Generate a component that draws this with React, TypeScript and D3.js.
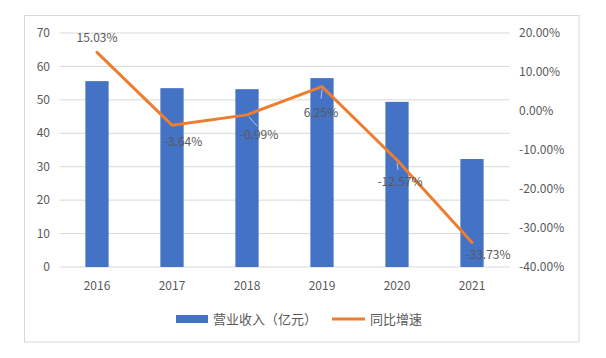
import React from "react";
import * as d3 from "d3";

const years = ["2016", "2017", "2018", "2019", "2020", "2021"];
const revenue = [55.6, 53.5, 53.2, 56.5, 49.4, 32.3];
const growth = [15.03, -3.64, -0.99, 6.25, -12.57, -33.73];
const growthLabels = ["15.03%", "-3.64%", "-0.99%", "6.25%", "-12.57%", "-33.73%"];
const leftTicks = [0, 10, 20, 30, 40, 50, 60, 70];
const rightTicks = [20, 10, 0, -10, -20, -30, -40];
const legendNames = ["营业收入（亿元）", "同比增速"];

// label offsets relative to the point (dx, dy)
const labelOffsets: [number, number][] = [
  [0, -15],
  [11, 17],
  [12, 20],
  [-1, 26],
  [3, 22],
  [16, 12],
];

export default function App() {
  const W = 606, H = 358;
  const x0 = 59.5, x1 = 509.5;
  const yTop = 33, yBot = 267;
  const x = d3.scaleBand<string>().domain(years).range([x0, x1]).paddingInner(0.69).paddingOuter(0.345);
  const xc = (d: string) => (x(d) as number) + x.bandwidth() / 2;
  const yL = d3.scaleLinear().domain([0, 70]).range([yBot, yTop]);
  const yR = d3.scaleLinear().domain([-40, 20]).range([yBot, yTop]);
  const line = d3
    .line<number>()
    .x((_, i) => xc(years[i]))
    .y((d) => yR(d));
  const font = "'Microsoft YaHei', 'Noto Sans CJK SC', 'DejaVu Sans', sans-serif";
  const txt = "#595959";
  return (
    <svg width={W} height={H} style={{ position: "absolute", left: 0, top: 0 }} fontFamily={font}>
      <rect x={0} y={0} width={W} height={H} fill="#fff" />
      <rect x={24.5} y={15.5} width={554.5} height={326.5} fill="none" stroke="#d9d9d9" strokeWidth={1} />
      {leftTicks.map((t) => (
        <line key={t} x1={x0} x2={x1} y1={yL(t)} y2={yL(t)} stroke="#d9d9d9" strokeWidth={1} />
      ))}
      {leftTicks.map((t) => (
        <text key={"l" + t} x={50} y={yL(t)} dy="0.35em" textAnchor="end" fontSize={12} fill={txt}>
          {t}
        </text>
      ))}
      {rightTicks.map((t) => (
        <text key={"r" + t} x={519} y={yR(t)} dy="0.35em" textAnchor="start" fontSize={12} fill={txt}>
          {t.toFixed(2) + "%"}
        </text>
      ))}
      {years.map((yr) => (
        <text key={"x" + yr} x={xc(yr)} y={286} dy="0.35em" textAnchor="middle" fontSize={12} fill={txt}>
          {yr}
        </text>
      ))}
      {revenue.map((v, i) => (
        <rect key={"b" + i} x={x(years[i])} y={yL(v)} width={x.bandwidth()} height={yL(0) - yL(v)} fill="#4472C4" />
      ))}
      <path d={line(growth) || ""} fill="none" stroke="#ED7D31" strokeWidth={3} strokeLinejoin="round" strokeLinecap="round" />
      {/* leader lines */}
      <line x1={xc(years[2]) + 2} y1={yR(growth[2]) + 2} x2={xc(years[2]) + 10} y2={yR(growth[2]) + 11} stroke="#b4c7e7" strokeWidth={1} />
      <line x1={xc(years[3])} y1={yR(growth[3]) + 3} x2={xc(years[3]) - 1} y2={yR(growth[3]) + 12} stroke="#b4c7e7" strokeWidth={1} />
      <line x1={xc(years[4])} y1={yR(growth[4]) + 3} x2={xc(years[4]) + 1} y2={yR(growth[4]) + 10} stroke="#b4c7e7" strokeWidth={1} />
      {growth.map((g, i) => (
        <text
          key={"g" + i}
          x={xc(years[i]) + labelOffsets[i][0]}
          y={yR(g) + labelOffsets[i][1]}
          dy="0.35em"
          textAnchor="middle"
          fontSize={12}
          fill={txt}
        >
          {growthLabels[i]}
        </text>
      ))}
      <rect x={176} y={315} width={32} height={8} fill="#4472C4" />
      <text x={213} y={319} dy="0.35em" fontSize={13} fill={txt}>
        {legendNames[0]}
      </text>
      <line x1={332} x2={365} y1={319} y2={319} stroke="#ED7D31" strokeWidth={3} />
      <text x={370} y={319} dy="0.35em" fontSize={13} fill={txt}>
        {legendNames[1]}
      </text>
    </svg>
  );
}
